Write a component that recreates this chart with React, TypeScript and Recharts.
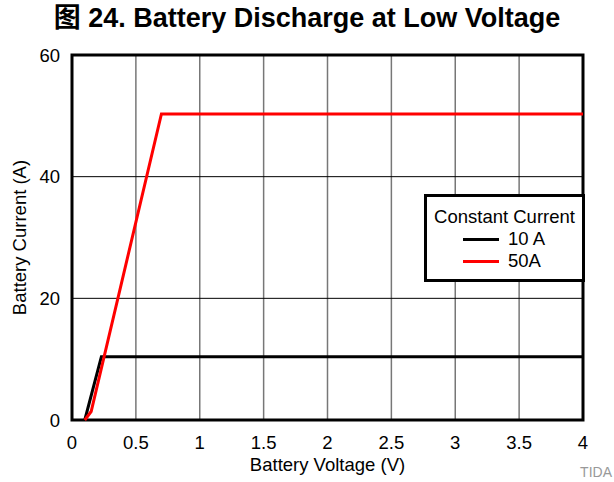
import { LineChart, Line, XAxis, YAxis, CartesianGrid, ReferenceArea } from "recharts"

const voltage10 = [0.1, 0.23, 4]
const current10 = [0, 10.4, 10.4]
const voltage50 = [0.1, 0.15, 0.7, 4]
const current50 = [0, 1.4, 50.3, 50.3]
const xTicks = [0, 0.5, 1, 1.5, 2, 2.5, 3, 3.5, 4]
const yTicks = [0, 20, 40, 60]
const legendItems = [
  { color: "#000", label: "10 A" },
  { color: "#ff0000", label: "50A" },
]

const data10 = voltage10.map((v, i) => ({ v, a: current10[i] }))
const data50 = voltage50.map((v, i) => ({ v, a: current50[i] }))

const font = "'Liberation Sans', Arial, sans-serif"

function LegendBox() {
  return (
    <div
      style={{
        position: "absolute",
        left: 424,
        top: 194,
        width: 161,
        height: 88,
        border: "3px solid #000",
        background: "#fff",
        fontFamily: font,
        fontSize: 18.5,
        color: "#000",
        boxSizing: "border-box",
        paddingTop: 9,
      }}
    >
      <div style={{ textAlign: "center", lineHeight: "22px" }}>Constant Current</div>
      {legendItems.map((r) => (
        <div key={r.label} style={{ display: "flex", alignItems: "center", lineHeight: "22px", paddingLeft: 36 }}>
          <span style={{ display: "inline-block", width: 36, height: 3, background: r.color, marginRight: 9 }} />
          <span>{r.label}</span>
        </div>
      ))}
    </div>
  )
}

export default function App() {
  return (
    <div style={{ position: "absolute", left: 0, top: 0, width: 614, height: 482, background: "#fff" }}>
      <LineChart width={614} height={482} margin={{ top: 55, right: 31, left: 0, bottom: 0 }} style={{ position: "absolute", left: 0, top: 0 }}>
        <CartesianGrid horizontal={false} stroke="#777" strokeWidth={1.5} />
        <CartesianGrid vertical={false} stroke="#000" strokeWidth={1} />
        <XAxis
          dataKey="v"
          type="number"
          domain={[0, 4]}
          ticks={xTicks}
          height={62}
          axisLine={false}
          tickLine={false}
          tick={{ fill: "#000", fontSize: 18.5, fontFamily: font }}
          tickMargin={10}
          label={{ value: "Battery Voltage (V)", position: "insideBottom", offset: 11, fill: "#000", fontSize: 18.5, fontFamily: font }}
        />
        <YAxis
          type="number"
          domain={[0, 60]}
          ticks={yTicks}
          width={72}
          axisLine={false}
          tickLine={false}
          tick={{ fill: "#000", fontSize: 18.5, fontFamily: font }}
          tickMargin={6}
          label={{ value: "Battery Current (A)", angle: -90, position: "insideLeft", offset: 19, fill: "#000", fontSize: 18.5, fontFamily: font, style: { textAnchor: "middle" } }}
        />
        <ReferenceArea x1={0} x2={4} y1={0} y2={60} fill="none" stroke="#000" strokeWidth={3} ifOverflow="visible" />
        <Line data={data10} dataKey="a" type="linear" stroke="#000" strokeWidth={3} dot={false} isAnimationActive={false} name="10 A" />
        <Line data={data50} dataKey="a" type="linear" stroke="#ff0000" strokeWidth={3} dot={false} isAnimationActive={false} name="50A" />
      </LineChart>
      <div
        style={{
          position: "absolute",
          left: 0,
          top: 1,
          width: 614,
          textAlign: "center",
          fontFamily: "'Liberation Sans', 'Noto Sans CJK SC', sans-serif",
          fontWeight: "bold",
          fontSize: 27,
          lineHeight: "34px",
          color: "#000",
        }}
      >
        图 24. Battery Discharge at Low Voltage
      </div>
      <LegendBox />
      <div style={{ position: "absolute", right: 2, top: 464, fontFamily: font, fontSize: 14, color: "#999" }}>TIDA</div>
    </div>
  )
}
